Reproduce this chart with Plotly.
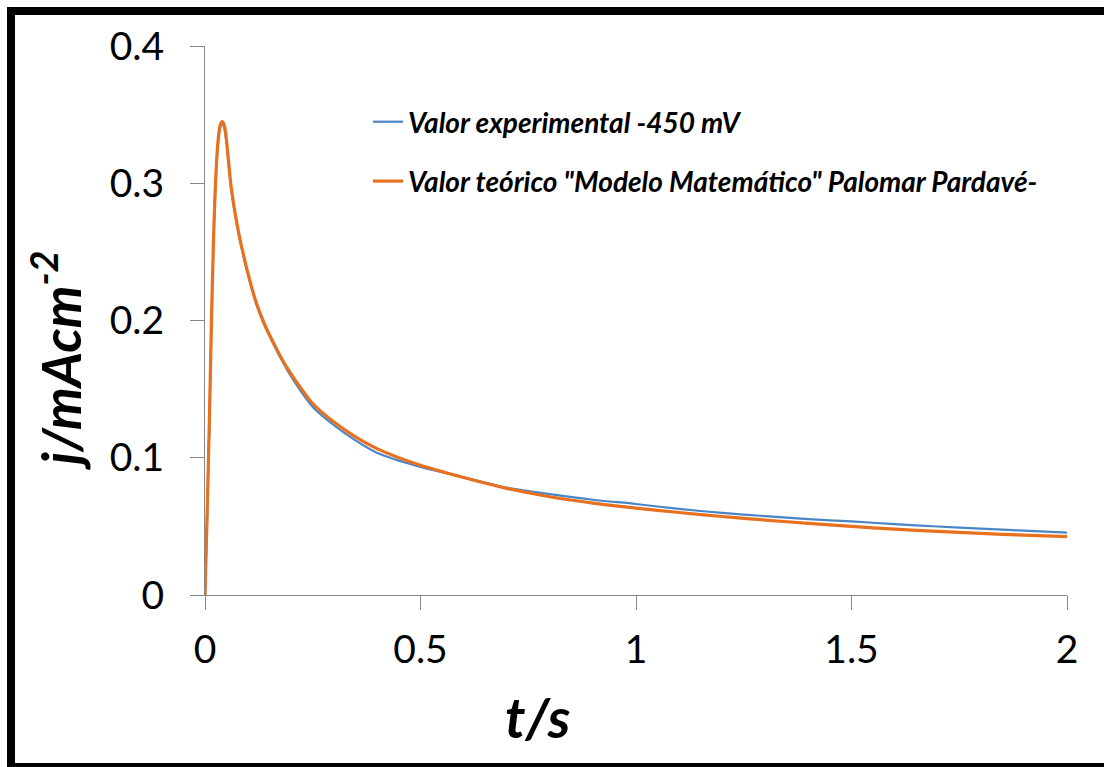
import plotly.graph_objects as go

# time axis (s)
t = [0, 0.005, 0.01, 0.015, 0.02, 0.025, 0.03, 0.035, 0.04, 0.045, 0.05,
     0.06, 0.07, 0.08, 0.09, 0.1, 0.12, 0.14, 0.16, 0.18, 0.2, 0.25, 0.3, 0.35,
     0.4, 0.5, 0.6, 0.7, 0.8, 0.9, 1.0, 1.1, 1.2, 1.3, 1.4, 1.5, 1.6, 1.7,
     1.8, 1.9, 2.0]

# experimental current density (mA cm^-2)
j_exp = [0, 0.058, 0.122, 0.198, 0.26, 0.303, 0.328, 0.34, 0.343, 0.34, 0.329,
         0.298, 0.277, 0.26, 0.246, 0.233, 0.211, 0.195, 0.182, 0.170, 0.159, 0.137,
         0.1235, 0.1125, 0.1035, 0.0933, 0.0858, 0.0782, 0.0735, 0.0694, 0.0663,
         0.0627, 0.0598, 0.0575, 0.0553, 0.0536, 0.0517, 0.0499, 0.0484, 0.0469,
         0.0455]

# theoretical model
j_teo = [0, 0.06, 0.125, 0.2, 0.262, 0.305, 0.33, 0.342, 0.345, 0.342, 0.331,
         0.299, 0.278, 0.261, 0.247, 0.234, 0.212, 0.196, 0.183, 0.171, 0.161, 0.1395,
         0.1258, 0.115, 0.1065, 0.0945, 0.0856, 0.0777, 0.0716, 0.067, 0.0633,
         0.0601, 0.0572, 0.0546, 0.0522, 0.05, 0.048, 0.0463, 0.0449, 0.0436,
         0.0425]

x_ticks = [0, 0.5, 1, 1.5, 2]
x_tick_text = ["0", "0.5", "1", "1.5", "2"]
y_ticks = [0, 0.1, 0.2, 0.3, 0.4]
y_tick_text = ["0", "0.1", "0.2", "0.3", "0.4"]

name_exp = "Valor experimental -450 mV"
name_teo = 'Valor teórico "Modelo Matemático" Palomar Pardavé-'
x_title = "t/s"
y_title = "j/mAcm<sup>-2</sup>"

FONT = "Lato"

W, H = 1104, 767
L, R, T, B = 205, 37, 46, 172
PW = W - L - R   # 862
PH = H - T - B   # 549


def px_x(p):
    return (p - L) / PW


def px_y(p):
    return (H - B - p) / PH


fig = go.Figure()
fig.add_trace(go.Scatter(x=t, y=j_exp, mode="lines", name=name_exp,
                         legendgroup="a",
                         line=dict(color="#4A86C5", width=2.2, shape="spline", smoothing=0.7)))
fig.add_trace(go.Scatter(x=t, y=j_teo, mode="lines", name=name_teo,
                         legendgroup="b",
                         line=dict(color="#E8711F", width=3.2, shape="spline", smoothing=0.7)))

frame = dict(color="black", width=8)
fig.update_layout(
    width=W, height=H,
    margin=dict(l=L, r=R, t=T, b=B),
    paper_bgcolor="white", plot_bgcolor="white",
    font=dict(family=FONT, color="black"),
    showlegend=True,
    legend=dict(x=px_x(368), y=px_y(97), xanchor="left", yanchor="top",
                traceorder="grouped", tracegroupgap=20,
                font=dict(family=FONT, size=28, color="black",
                          style="italic", weight="bold"),
                bgcolor="rgba(0,0,0,0)", itemwidth=30),
    xaxis=dict(range=[0, 2], tickvals=x_ticks, ticktext=x_tick_text,
               showline=True, linecolor="#868686", linewidth=1,
               ticks="outside", ticklen=14, tickcolor="#868686",
               showgrid=False, zeroline=False, automargin=False,
               tickfont=dict(family=FONT, size=39),
               ticklabelstandoff=6),
    yaxis=dict(range=[0, 0.4], tickvals=y_ticks, ticktext=y_tick_text,
               showline=True, linecolor="#868686", linewidth=1,
               ticks="outside", ticklen=14, tickcolor="#868686",
               showgrid=False, zeroline=False, automargin=False,
               tickfont=dict(family=FONT, size=39),
               ticklabelstandoff=18),
    annotations=[
        dict(text=x_title, xref="paper", yref="paper",
             x=px_x(538), y=px_y(716), xanchor="center", yanchor="middle",
             showarrow=False,
             font=dict(family=FONT, size=56, style="italic", weight="bold", color="black")),
        dict(text=y_title, xref="paper", yref="paper", textangle=-90,
             x=px_x(57), y=px_y(360), xanchor="center", yanchor="middle",
             showarrow=False,
             font=dict(family=FONT, size=54, style="italic", weight="bold", color="black")),
    ],
    shapes=[
        # outer black frame: top, left, bottom
        dict(type="line", xref="paper", yref="paper",
             x0=px_x(7), x1=px_x(1104), y0=px_y(11), y1=px_y(11), line=frame),
        dict(type="line", xref="paper", yref="paper",
             x0=px_x(11), x1=px_x(11), y0=px_y(7), y1=px_y(767), line=frame),
        dict(type="line", xref="paper", yref="paper",
             x0=px_x(7), x1=px_x(1104), y0=px_y(767), y1=px_y(767), line=frame),
    ],
)

fig.write_html("out.html",
               config={"displayModeBar": False},
               post_script="document.body.style.margin='0';"
                           "document.body.style.overflow='hidden';")
